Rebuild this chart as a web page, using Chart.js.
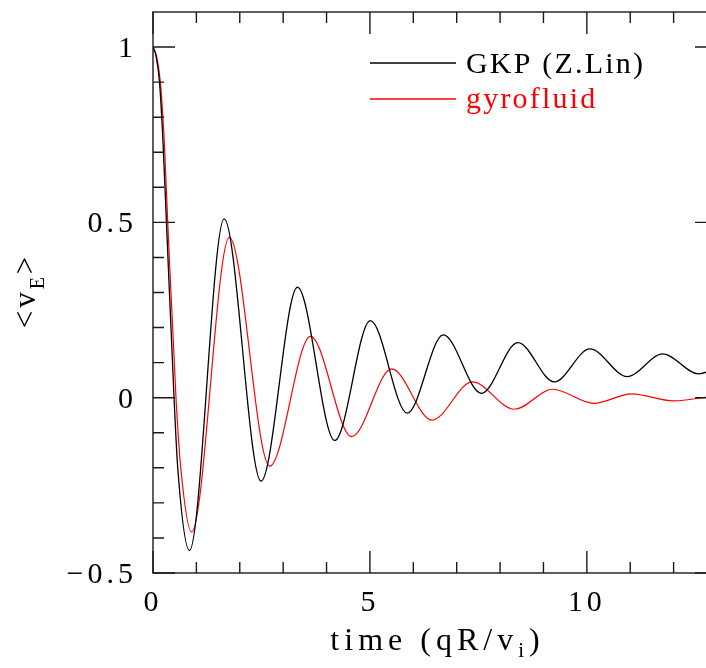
<!DOCTYPE html>
<html><head><meta charset="utf-8">
<script src="https://cdn.jsdelivr.net/npm/chart.js@4"></script>
<style>
html,body{margin:0;padding:0;overflow:hidden;background:#fff;}
#wrap{position:relative;width:730px;height:668px;}
</style></head><body>
<div id="wrap"><canvas id="c" width="730" height="668"></canvas></div>
<script>
// ---- data ----
const xMajorTicks = [0, 5, 10];
const xMinorTicks = [1, 2, 3, 4, 6, 7, 8, 9, 11, 12];
const yMajorTicks = [-0.5, 0, 0.5, 1];
const yMinorTicks = [-0.4, -0.3, -0.2, -0.1, 0.1, 0.2, 0.3, 0.4, 0.6, 0.7, 0.8, 0.9];

const gkpTime  = [0, 0.07, 0.15, 0.23, 0.31, 0.485, 0.57, 0.84, 1.64, 2.49, 3.33, 4.19, 5.01, 5.86, 6.69, 7.57, 8.41, 9.25, 10.07, 10.93, 11.75, 12.57, 13.0];
const gkpValue = [1.0, 0.975, 0.9, 0.73, 0.5, 0.0, -0.2, -0.436, 0.51, -0.238, 0.315, -0.122, 0.22, -0.044, 0.179, 0.0125, 0.157, 0.045, 0.139, 0.06, 0.125, 0.068, 0.085];

const gfTime  = [0, 0.08, 0.17, 0.26, 0.34, 0.53, 0.64, 0.89, 1.76, 2.69, 3.63, 4.58, 5.5, 6.43, 7.36, 8.33, 9.21, 10.16, 11.03, 12.0, 13.0];
const gfValue = [1.0, 0.975, 0.9, 0.73, 0.5, 0.0, -0.2, -0.383, 0.457, -0.195, 0.175, -0.111, 0.082, -0.064, 0.045, -0.033, 0.024, -0.016, 0.011, -0.009, 0.006];

const seriesLabels = ['GKP (Z.Lin)', 'gyrofluid'];
const seriesColors = ['#000000', '#ff0000'];
const xTitle = ['time (qR/v', 'i', ')'];
const yTitle = ['<v', 'E', '>'];

const FONT = "'Liberation Serif', 'Times New Roman', serif";

function fmt(v){
  if (Math.abs(v) < 1e-9) return '0';
  const s = String(Math.round(v*10)/10);
  return v < 0 ? '\u2212' + s.slice(1) : s;
}

const framePlugin = {
  id: 'frame',
  beforeDraw(chart){ chart.ctx.letterSpacing = '4px'; },
  afterDatasetsDraw(chart){
    const {ctx, chartArea: a, scales: {x, y}} = chart;
    ctx.save();
    ctx.strokeStyle = '#1a1a1a';
    ctx.lineWidth = 1.4;
    ctx.strokeRect(a.left, a.top, a.right - a.left, a.bottom - a.top);
    ctx.beginPath();
    const xt = (vals, len) => vals.forEach(v => {
      const px = x.getPixelForValue(v);
      ctx.moveTo(px, a.bottom); ctx.lineTo(px, a.bottom - len);
      ctx.moveTo(px, a.top); ctx.lineTo(px, a.top + len);
    });
    const yt = (vals, len) => vals.forEach(v => {
      const py = y.getPixelForValue(v);
      ctx.moveTo(a.left, py); ctx.lineTo(a.left + len, py);
      ctx.moveTo(a.right, py); ctx.lineTo(a.right - len, py);
    });
    xt(xMajorTicks, 22); xt(xMinorTicks, 11);
    yt(yMajorTicks, 22); yt(yMinorTicks, 11);
    ctx.stroke();
    ctx.restore();
  },
  afterDraw(chart){
    const {ctx, chartArea: a} = chart;
    ctx.save();
    ctx.fillStyle = '#000';
    ctx.textBaseline = 'alphabetic';
    ctx.textAlign = 'left';
    // x title
    ctx.letterSpacing = '5px';
    const segX = [{t: xTitle[0], s: 32, d: 0}, {t: xTitle[1], s: 21, d: 7}, {t: xTitle[2], s: 32, d: 0}];
    let tw = 0;
    segX.forEach(g => { ctx.font = g.s + 'px ' + FONT; g.w = ctx.measureText(g.t).width; tw += g.w; });
    let cx = (a.left + a.right) / 2 - (tw - 5) / 2;
    segX.forEach(g => { ctx.font = g.s + 'px ' + FONT; ctx.fillText(g.t, cx, 650 + g.d); cx += g.w; });
    // y title (rotated)
    ctx.letterSpacing = '3px';
    const segY = [{t: yTitle[0], s: 31, d: 0}, {t: yTitle[1], s: 20, d: 9}, {t: yTitle[2], s: 31, d: 0}];
    tw = 0;
    segY.forEach(g => { ctx.font = g.s + 'px ' + FONT; g.w = ctx.measureText(g.t).width; tw += g.w; });
    ctx.save();
    ctx.translate(35, (a.top + a.bottom) / 2);
    ctx.rotate(-Math.PI / 2);
    cx = -(tw - 3) / 2;
    segY.forEach(g => { ctx.font = g.s + 'px ' + FONT; ctx.fillText(g.t, cx, g.d); cx += g.w; });
    ctx.restore();
    // legend
    ctx.letterSpacing = '2.2px';
    ctx.font = '30px ' + FONT;
    const rows = [{ly: 63, by: 73}, {ly: 99, by: 107.5}];
    chart.data.datasets.forEach((ds, i) => {
      ctx.strokeStyle = ds.borderColor;
      ctx.lineWidth = 1.3;
      ctx.beginPath(); ctx.moveTo(370, rows[i].ly); ctx.lineTo(456, rows[i].ly); ctx.stroke();
      ctx.fillStyle = ds.borderColor;
      ctx.fillText(ds.label, 466, rows[i].by);
    });
    ctx.restore();
    ctx.letterSpacing = '0px';
  }
};

new Chart(document.getElementById('c'), {
  type: 'line',
  data: {
    datasets: [
      {label: seriesLabels[0], data: gkpTime.map((t, i) => ({x: t, y: gkpValue[i]})),
       borderColor: seriesColors[0], borderWidth: 1.3, pointRadius: 0, cubicInterpolationMode: 'monotone', fill: false},
      {label: seriesLabels[1], data: gfTime.map((t, i) => ({x: t, y: gfValue[i]})),
       borderColor: seriesColors[1], borderWidth: 1.2, pointRadius: 0, cubicInterpolationMode: 'monotone', fill: false}
    ]
  },
  options: {
    responsive: false,
    animation: false,
    devicePixelRatio: 1,
    layout: {padding: {left: 0, top: 12, right: 13, bottom: 0}},
    plugins: {legend: {display: false}, tooltip: {enabled: false}},
    scales: {
      x: {
        type: 'linear', min: 0, max: 13,
        afterBuildTicks: s => { s.ticks = xMajorTicks.map(v => ({value: v})); },
        afterFit: s => { s.height = 95; s.paddingLeft = 0; s.paddingRight = 0; },
        grid: {display: false, drawTicks: false},
        border: {display: false},
        ticks: {font: {family: FONT, size: 30}, color: '#000', padding: 12, maxRotation: 0,
                callback: v => fmt(v)}
      },
      y: {
        type: 'linear', min: -0.5, max: 1.1,
        afterBuildTicks: s => { s.ticks = yMajorTicks.map(v => ({value: v})); },
        afterFit: s => { s.width = 153; s.paddingTop = 0; s.paddingBottom = 0; },
        grid: {display: false, drawTicks: false},
        border: {display: false},
        ticks: {font: {family: FONT, size: 30}, color: '#000', padding: 16, labelOffset: 2,
                callback: v => fmt(v)}
      }
    }
  },
  plugins: [framePlugin]
});
</script>
</body></html>
